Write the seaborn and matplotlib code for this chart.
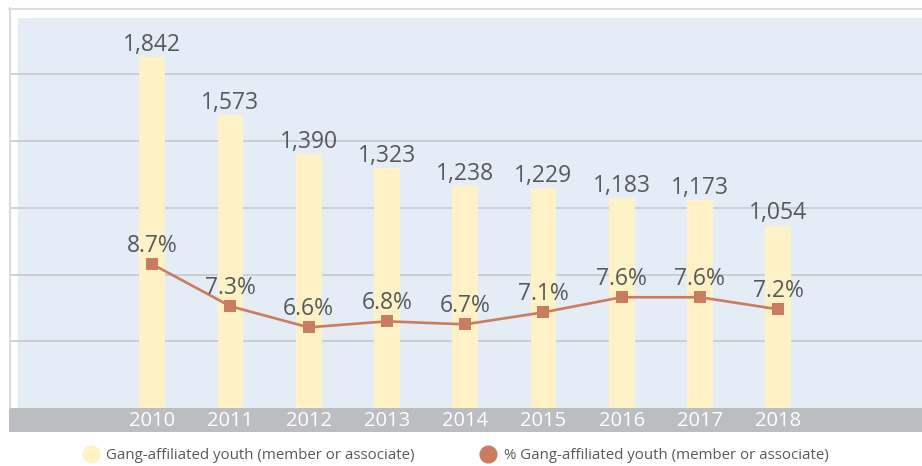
import numpy as np
import matplotlib
matplotlib.use("Agg")
import matplotlib.pyplot as plt
from matplotlib.patches import Rectangle
from matplotlib.lines import Line2D
import seaborn as sns

years = ["2010", "2011", "2012", "2013", "2014", "2015", "2016", "2017", "2018"]
youth_counts = [1842, 1573, 1390, 1323, 1238, 1229, 1183, 1173, 1054]
youth_pct = [8.7, 7.3, 6.6, 6.8, 6.7, 7.1, 7.6, 7.6, 7.2]
legend_labels = ["Gang-affiliated youth (member or associate)",
                 "% Gang-affiliated youth (member or associate)"]

bar_color = "#fef1c6"
line_color = "#c97c5f"
panel_color = "#e4ecf6"
grid_color = "#c6c8cb"
band_color = "#bcbdc0"
text_color = "#58595b"

sns.set_theme(style="white")
plt.rcParams["font.family"] = ["Open Sans", "DejaVu Sans"]

W, H = 922, 466
fig = plt.figure(figsize=(W / 100, H / 100), dpi=100)
ax = fig.add_axes([10 / W, 58 / H, 912 / W, 390 / H])
ax.set_facecolor("white")
# light blue panel, leaves a thin white strip on the left
ax.add_patch(Rectangle((8 / 912, 0), 1, 1, transform=ax.transAxes,
                       color=panel_color, zorder=0, lw=0))

sns.barplot(x=years, y=youth_counts, color=bar_color, saturation=1,
            width=0.33, linewidth=0, ax=ax, zorder=2)

ax.set_ylim(200, 2027)
ax.set_yticks([512.5, 825, 1137.5, 1450, 1762.5])
ax.yaxis.grid(True, color=grid_color, lw=1.2)
ax.set_axisbelow(True)
ax.tick_params(axis="y", length=0, labelleft=False)
ax.tick_params(axis="x", length=0, pad=2.5, colors="white", labelsize=14.5)
ax.set_xlabel("")
ax.set_ylabel("")
for s in ax.spines.values():
    s.set_visible(False)

for i, v in enumerate(youth_counts):
    ax.annotate(f"{v:,}", (i, v), xytext=(0, 4.5), textcoords="offset points",
                ha="center", va="baseline", fontsize=16.5, color=text_color)

ax2 = ax.twinx()
sns.lineplot(x=np.arange(len(years)), y=youth_pct, ax=ax2, color=line_color,
             lw=1.9, marker="s", markersize=8.5, markeredgewidth=0)
ax2.set_ylim(3.92, 16.88)
ax2.set_yticks([])
ax2.set_ylabel("")
for s in ax2.spines.values():
    s.set_visible(False)
for i, p in enumerate(youth_pct):
    ax2.annotate(f"{p}%", (i, p), xytext=(0, 8.8), textcoords="offset points",
                 ha="center", va="baseline", fontsize=16.5, color=text_color)

ax.set_xlim(-1.817, 9.838)
ax2.set_xlim(-1.817, 9.838)

# grey band behind the year labels
fig.add_artist(Rectangle((9 / W, 34 / H), 913 / W, 24 / H, transform=fig.transFigure,
                         color=band_color, lw=0, zorder=-1))
# thin outer frame
fig.add_artist(Line2D([9 / W, 1], [1 - 8.5 / H, 1 - 8.5 / H], transform=fig.transFigure,
                      color="#dcdcdc", lw=1.5))
fig.add_artist(Line2D([9.5 / W, 9.5 / W], [58 / H, 1 - 8 / H], transform=fig.transFigure,
                      color="#dcdcdc", lw=1.5))

handles = [Line2D([], [], ls="", marker="o", color=bar_color, markersize=12),
           Line2D([], [], ls="", marker="o", color=line_color, markersize=12)]
fig.legend(handles, legend_labels, loc="center", bbox_to_anchor=(0.4946, 0.022),
           ncol=2, frameon=False, fontsize=10.8, labelcolor=text_color,
           handletextpad=0.55, columnspacing=4.4, handlelength=1.0)

fig.savefig("out.png", dpi=100)
